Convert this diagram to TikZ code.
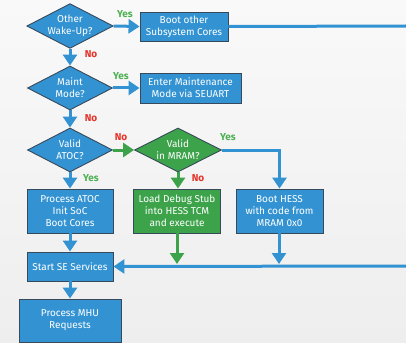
\documentclass[tikz,border=0pt]{standalone}
\usepackage{fontspec}
\setmainfont{Fira Sans}
\usetikzlibrary{shapes.geometric,arrows.meta}
\definecolor{bfill}{HTML}{3393D2}
\definecolor{gfill}{HTML}{3DA34B}
\definecolor{edge}{HTML}{37495A}
\definecolor{yescol}{HTML}{4CAF50}
\definecolor{nocol}{HTML}{E53228}
\definecolor{bgtop}{HTML}{F9F9F9}
\definecolor{bgbot}{HTML}{EEEEEE}
\tikzset{
  box/.style={draw=edge, line width=0.9pt, fill=bfill, text=white, align=center,
    font=\fontsize{10}{12}\selectfont, inner sep=0pt},
  gbox/.style={box, fill=gfill},
  dia/.style={box, shape=diamond, aspect=1.93},
  gdia/.style={dia, fill=gfill},
  flow/.style={draw=bfill, line width=3pt, -{Triangle[width=14pt,length=11pt]}},
  gflow/.style={flow, draw=gfill, -{Triangle[width=14pt,length=11pt,color=gfill]}},
  wire/.style={draw=bfill, line width=3pt},
  yes/.style={text=yescol, font=\fontsize{10}{11}\selectfont\bfseries},
  no/.style={text=nocol, font=\fontsize{10}{11}\selectfont\bfseries},
}
\begin{document}
\begin{tikzpicture}[x=1pt, y=-1pt]
  \useasboundingbox (0,0) rectangle (406,342);
  \shade[top color=bgtop, bottom color=bgbot] (0,0) rectangle (406,342);

  % decisions
  \node[dia, minimum width=85pt, minimum height=44pt] (d1) at (70,26) {Other\\Wake-Up?};
  \node[dia, minimum width=85pt, minimum height=44pt] (d2) at (70,88) {Maint\\Mode?};
  \node[dia, minimum width=85pt, minimum height=44pt] (d3) at (70,150) {Valid\\ATOC?};
  \node[gdia, minimum width=87pt, minimum height=44pt] (d4) at (178,150) {Valid\\in MRAM?};

  % actions
  \node[box, minimum width=88pt, minimum height=29pt] (b1) at (184,26.5) {Boot other\\Subsystem Cores};
  \node[box, minimum width=101pt, minimum height=30pt] (b2) at (190.5,88) {Enter Maintenance\\Mode via SEUART};
  \node[box, minimum width=86pt, minimum height=44pt] (b3) at (70,211) {Process ATOC\\Init SoC\\Boot Cores};
  \node[gbox, minimum width=87pt, minimum height=44pt] (b4) at (177,211) {Load Debug Stub\\into HESS TCM\\and execute};
  \node[box, minimum width=87pt, minimum height=44pt] (b5) at (279.5,211) {Boot HESS\\with code from\\MRAM 0x0};
  \node[box, minimum width=86pt, minimum height=29pt] (b6) at (70,266.5) {Start SE Services};
  \node[box, minimum width=102pt, minimum height=43pt] (b7) at (70,320.5) {Process MHU\\Requests};

  % bus ends and junctions
  \coordinate (r1) at (406,26);
  \coordinate (r2) at (406,266);
  \coordinate (j4) at (177,264);
  \coordinate (j5) at (279,264);

  % connectors
  \draw[flow] (d1.east) -- (b1.west);
  \draw[wire] (b1.east) -- (r1);
  \draw[flow] (d1.south) -- (d2.north);
  \draw[flow] (d2.east) -- (b2.west);
  \draw[flow] (d2.south) -- (d3.north);
  \draw[gflow] (d3.east) -- (d4.west);
  \draw[flow] (d4.east) -| (b5.north);
  \draw[gflow] (d4.south) -- (d4.south |- b4.north);
  \draw[flow] (d3.south) -- (b3.north);
  \draw[flow] (b3.south) -- (b6.north);
  \draw[flow] (r2) -- (b6.east);
  \draw[gflow] (b4.south) -- (j4);
  \draw[flow] (b5.south -| j5) -- (j5);
  \draw[flow] (b6.south) -- (b7.north);

  % branch labels
  \node[yes] (l1) at (125,14) {Yes};
  \node[no]  (l2) at (91,54) {No};
  \node[yes] (l3) at (121,76) {Yes};
  \node[no]  (l4) at (91,118) {No};
  \node[no]  (l5) at (121,137) {No};
  \node[yes] (l6) at (228,137) {Yes};
  \node[no]  (l7) at (198,178) {No};
  \node[yes] (l8) at (91,178) {Yes};
\end{tikzpicture}
\end{document}
